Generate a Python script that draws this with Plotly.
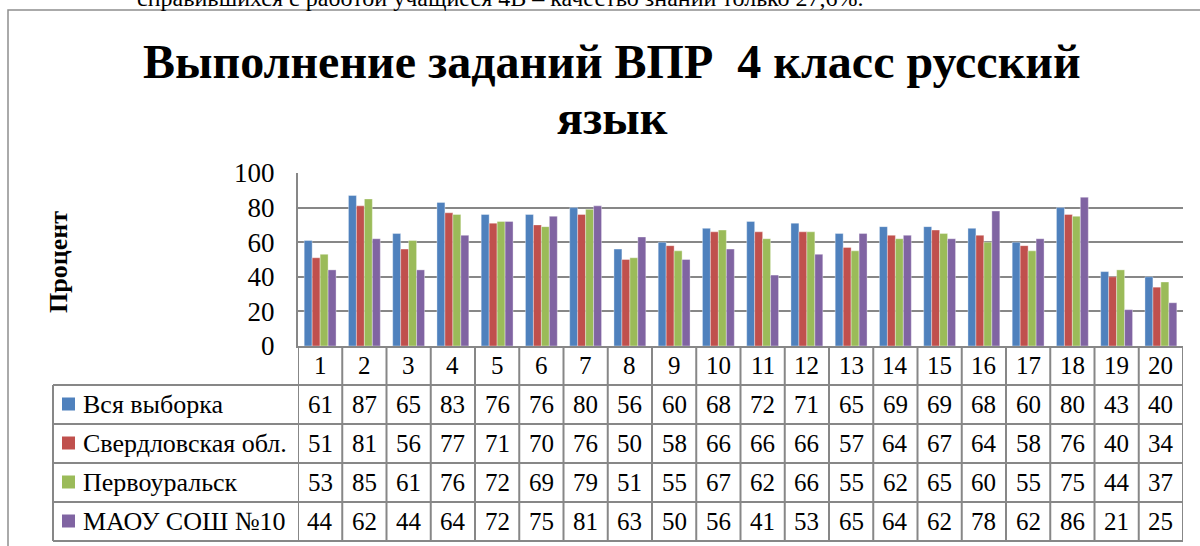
import plotly.graph_objects as go

categories = [str(i) for i in range(1, 21)]
series_names = ["Вся выборка", "Свердловская обл.", "Первоуральск", "МАОУ СОШ №10"]
vsya = [61, 87, 65, 83, 76, 76, 80, 56, 60, 68, 72, 71, 65, 69, 69, 68, 60, 80, 43, 40]
sverd = [51, 81, 56, 77, 71, 70, 76, 50, 58, 66, 66, 66, 57, 64, 67, 64, 58, 76, 40, 34]
pervo = [53, 85, 61, 76, 72, 69, 79, 51, 55, 67, 62, 66, 55, 62, 65, 60, 55, 75, 44, 37]
maou = [44, 62, 44, 64, 72, 75, 81, 63, 50, 56, 41, 53, 65, 64, 62, 78, 62, 86, 21, 25]
series_values = [vsya, sverd, pervo, maou]
colors = ["#4F81BD", "#C0504D", "#9BBB59", "#8064A2"]
yticks = [0, 20, 40, 60, 80, 100]

title_lines = ["Выполнение заданий ВПР  4 класс русский", "язык"]
yaxis_title = "Процент"
top_text = "справившихся с работой учащиеся 4В – качество знаний только 27,6%."

W, H = 1200, 546
L, R, T, B = 298, 1183, 173, 346
ROW_H = 39
TABLE_LEFT = 53
GRAY = "#878787"
FONT = "Liberation Serif"


def px(x):
    return (x - L) / (R - L)


def py(y):
    return (B - y) / (B - T)


fig = go.Figure()
for name, vals, c in zip(series_names, series_values, colors):
    fig.add_trace(go.Bar(
        x=categories, y=vals, name=name,
        marker=dict(color=c, line=dict(color="rgba(255,255,255,0.45)", width=0.8)),
    ))

shapes = []
annotations = []

# outer chart frame
shapes.append(dict(type="rect", xref="paper", yref="paper",
                   x0=px(8), x1=px(1215), y0=py(10), y1=py(560),
                   line=dict(color="#8f8f8f", width=1.5), layer="below"))

# table: vertical lines at category boundaries
n = len(categories)
table_bottom = B + ROW_H * (len(series_names) + 1)
for i in range(n + 1):
    shapes.append(dict(type="line", xref="x", yref="paper",
                       x0=i - 0.5, x1=i - 0.5, y0=py(B), y1=py(table_bottom),
                       line=dict(color=GRAY, width=2)))
# table left edge
shapes.append(dict(type="line", xref="paper", yref="paper",
                   x0=px(TABLE_LEFT), x1=px(TABLE_LEFT),
                   y0=py(B + ROW_H), y1=py(table_bottom),
                   line=dict(color=GRAY, width=2)))
# horizontal row lines
for k in range(1, len(series_names) + 2):
    yy = B + ROW_H * k
    shapes.append(dict(type="line", xref="paper", yref="paper",
                       x0=px(TABLE_LEFT), x1=1, y0=py(yy), y1=py(yy),
                       line=dict(color=GRAY, width=2)))

# header row: category labels
for i, cat in enumerate(categories):
    annotations.append(dict(xref="x", yref="paper", x=i, y=py(B + ROW_H / 2),
                            xanchor="center", yanchor="middle",
                            text=cat, showarrow=False,
                            font=dict(family=FONT, size=25, color="black")))

# data rows
for r, (name, vals, c) in enumerate(zip(series_names, series_values, colors)):
    yc = B + ROW_H * (r + 1.5)
    # legend key
    shapes.append(dict(type="rect", xref="paper", yref="paper",
                       x0=px(62), x1=px(75), y0=py(yc - 7), y1=py(yc + 6),
                       fillcolor=c, line=dict(width=0)))
    annotations.append(dict(xref="paper", yref="paper", x=px(81), y=py(yc),
                            xanchor="left", yanchor="middle",
                            text=name, showarrow=False,
                            font=dict(family=FONT, size=26, color="black")))
    for i, v in enumerate(vals):
        annotations.append(dict(xref="x", yref="paper", x=i, y=py(yc),
                                xanchor="center", yanchor="middle",
                                text=str(v), showarrow=False,
                                font=dict(family=FONT, size=25, color="black")))

# title (two lines)
for line, yc in zip(title_lines, [61, 117]):
    annotations.append(dict(xref="paper", yref="paper", x=px(612), y=py(yc),
                            text=line, showarrow=False,
                            xanchor="center", yanchor="middle",
                            font=dict(family=FONT, size=48, color="black",
                                      weight="bold")))
# y axis title
annotations.append(dict(xref="paper", yref="paper", x=px(58), y=py(262),
                        xanchor="center", yanchor="middle",
                        text=yaxis_title, textangle=-90, showarrow=False,
                        font=dict(family=FONT, size=26, color="black",
                                  weight="bold")))
# partially visible document text above the chart
annotations.append(dict(xref="paper", yref="paper", x=px(866), y=py(13),
                        xanchor="right", yanchor="bottom", text=top_text,
                        showarrow=False,
                        font=dict(family=FONT, size=24, color="black")))

fig.update_layout(
    width=W, height=H,
    margin=dict(l=L, r=W - R, t=T, b=H - B, pad=0),
    paper_bgcolor="white", plot_bgcolor="white",
    barmode="group", bargap=0.28, bargroupgap=0,
    showlegend=False,
    shapes=shapes, annotations=annotations,
    xaxis=dict(type="category", range=[-0.5, n - 0.5], showticklabels=False,
               ticks="", showgrid=False, showline=True, linecolor=GRAY,
               linewidth=2, fixedrange=True),
    yaxis=dict(range=[0, 100], tickvals=yticks, showgrid=True, gridcolor=GRAY,
               gridwidth=1.5, showline=True, linecolor=GRAY, linewidth=2,
               ticks="", ticklabelstandoff=16, zeroline=False,
               tickfont=dict(family=FONT, size=27, color="black"),
               fixedrange=True),
)

fig.write_html("out.html", config={"displayModeBar": False},
               post_script="document.body.style.margin='0px';")
